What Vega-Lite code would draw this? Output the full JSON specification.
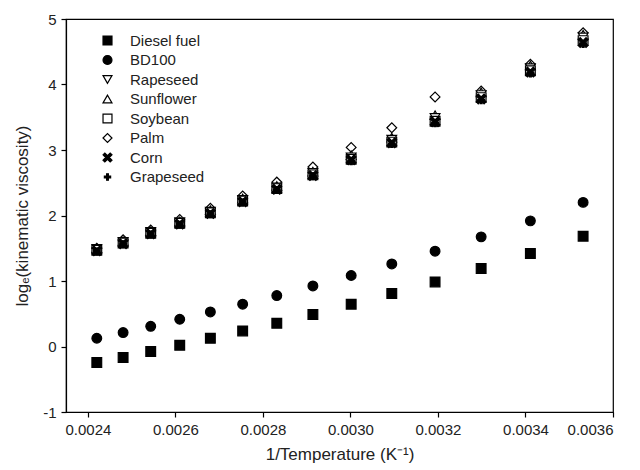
{
  "$schema": "https://vega.github.io/schema/vega-lite/v6.json",
  "width": 547,
  "height": 393,
  "autosize": "none",
  "padding": {"left": 66, "top": 19, "right": 27, "bottom": 58},
  "background": "white",
  "config": {
    "font": "Liberation Sans",
    "view": {"stroke": "black", "strokeWidth": 1.2},
    "axis": {
      "grid": false,
      "domainColor": "black",
      "domainWidth": 1.2,
      "tickColor": "black",
      "tickWidth": 1.2,
      "tickSize": 5,
      "labelColor": "#222",
      "titleColor": "#222",
      "labelFont": "Liberation Sans",
      "titleFont": "Liberation Sans",
      "labelFontSize": 15,
      "titleFontSize": 17,
      "titleFontWeight": "normal"
    },
    "legend": {
      "symbolStrokeColor": "black",
      "symbolStrokeWidth": 1.2,
      "labelFont": "Liberation Sans",
      "labelFontSize": 15,
      "labelColor": "#222"
    }
  },
  "data": {
    "values": [
      {"x": 0.0024204, "y": -0.245, "fuel": "Diesel fuel"},
      {"x": 0.0024805, "y": -0.169, "fuel": "Diesel fuel"},
      {"x": 0.0025436, "y": -0.077, "fuel": "Diesel fuel"},
      {"x": 0.0026099, "y": 0.019, "fuel": "Diesel fuel"},
      {"x": 0.0026799, "y": 0.126, "fuel": "Diesel fuel"},
      {"x": 0.0027537, "y": 0.238, "fuel": "Diesel fuel"},
      {"x": 0.0028317, "y": 0.355, "fuel": "Diesel fuel"},
      {"x": 0.0029142, "y": 0.488, "fuel": "Diesel fuel"},
      {"x": 0.0030017, "y": 0.646, "fuel": "Diesel fuel"},
      {"x": 0.0030945, "y": 0.809, "fuel": "Diesel fuel"},
      {"x": 0.0031934, "y": 0.986, "fuel": "Diesel fuel"},
      {"x": 0.0032987, "y": 1.191, "fuel": "Diesel fuel"},
      {"x": 0.0034112, "y": 1.42, "fuel": "Diesel fuel"},
      {"x": 0.0035317, "y": 1.684, "fuel": "Diesel fuel"},
      {"x": 0.0024204, "y": 0.126, "fuel": "BD100"},
      {"x": 0.0024805, "y": 0.213, "fuel": "BD100"},
      {"x": 0.0025436, "y": 0.309, "fuel": "BD100"},
      {"x": 0.0026099, "y": 0.416, "fuel": "BD100"},
      {"x": 0.0026799, "y": 0.528, "fuel": "BD100"},
      {"x": 0.0027537, "y": 0.646, "fuel": "BD100"},
      {"x": 0.0028317, "y": 0.778, "fuel": "BD100"},
      {"x": 0.0029142, "y": 0.925, "fuel": "BD100"},
      {"x": 0.0030017, "y": 1.084, "fuel": "BD100"},
      {"x": 0.0030945, "y": 1.261, "fuel": "BD100"},
      {"x": 0.0031934, "y": 1.455, "fuel": "BD100"},
      {"x": 0.0032987, "y": 1.674, "fuel": "BD100"},
      {"x": 0.0034112, "y": 1.918, "fuel": "BD100"},
      {"x": 0.0035317, "y": 2.2, "fuel": "BD100"},
      {"x": 0.0024204, "y": 1.5, "fuel": "Palm"},
      {"x": 0.0024805, "y": 1.63, "fuel": "Palm"},
      {"x": 0.0025436, "y": 1.78, "fuel": "Palm"},
      {"x": 0.0026099, "y": 1.94, "fuel": "Palm"},
      {"x": 0.0026799, "y": 2.11, "fuel": "Palm"},
      {"x": 0.0027537, "y": 2.3, "fuel": "Palm"},
      {"x": 0.0028317, "y": 2.51, "fuel": "Palm"},
      {"x": 0.0029142, "y": 2.74, "fuel": "Palm"},
      {"x": 0.0030017, "y": 3.04, "fuel": "Palm"},
      {"x": 0.0030945, "y": 3.34, "fuel": "Palm"},
      {"x": 0.0031934, "y": 3.81, "fuel": "Palm"},
      {"x": 0.0032987, "y": 3.9, "fuel": "Palm"},
      {"x": 0.0034112, "y": 4.31, "fuel": "Palm"},
      {"x": 0.0035317, "y": 4.79, "fuel": "Palm"},
      {"x": 0.0024204, "y": 1.5, "fuel": "Sunflower"},
      {"x": 0.0024805, "y": 1.61, "fuel": "Sunflower"},
      {"x": 0.0025436, "y": 1.76, "fuel": "Sunflower"},
      {"x": 0.0026099, "y": 1.91, "fuel": "Sunflower"},
      {"x": 0.0026799, "y": 2.08, "fuel": "Sunflower"},
      {"x": 0.0027537, "y": 2.26, "fuel": "Sunflower"},
      {"x": 0.0028317, "y": 2.45, "fuel": "Sunflower"},
      {"x": 0.0029142, "y": 2.67, "fuel": "Sunflower"},
      {"x": 0.0030017, "y": 2.92, "fuel": "Sunflower"},
      {"x": 0.0030945, "y": 3.19, "fuel": "Sunflower"},
      {"x": 0.0031934, "y": 3.53, "fuel": "Sunflower"},
      {"x": 0.0032987, "y": 3.88, "fuel": "Sunflower"},
      {"x": 0.0034112, "y": 4.29, "fuel": "Sunflower"},
      {"x": 0.0035317, "y": 4.76, "fuel": "Sunflower"},
      {"x": 0.0024204, "y": 1.49, "fuel": "Rapeseed"},
      {"x": 0.0024805, "y": 1.6, "fuel": "Rapeseed"},
      {"x": 0.0025436, "y": 1.75, "fuel": "Rapeseed"},
      {"x": 0.0026099, "y": 1.9, "fuel": "Rapeseed"},
      {"x": 0.0026799, "y": 2.06, "fuel": "Rapeseed"},
      {"x": 0.0027537, "y": 2.24, "fuel": "Rapeseed"},
      {"x": 0.0028317, "y": 2.43, "fuel": "Rapeseed"},
      {"x": 0.0029142, "y": 2.65, "fuel": "Rapeseed"},
      {"x": 0.0030017, "y": 2.89, "fuel": "Rapeseed"},
      {"x": 0.0030945, "y": 3.16, "fuel": "Rapeseed"},
      {"x": 0.0031934, "y": 3.49, "fuel": "Rapeseed"},
      {"x": 0.0032987, "y": 3.84, "fuel": "Rapeseed"},
      {"x": 0.0034112, "y": 4.25, "fuel": "Rapeseed"},
      {"x": 0.0035317, "y": 4.72, "fuel": "Rapeseed"},
      {"x": 0.0024204, "y": 1.47, "fuel": "Soybean"},
      {"x": 0.0024805, "y": 1.58, "fuel": "Soybean"},
      {"x": 0.0025436, "y": 1.73, "fuel": "Soybean"},
      {"x": 0.0026099, "y": 1.88, "fuel": "Soybean"},
      {"x": 0.0026799, "y": 2.04, "fuel": "Soybean"},
      {"x": 0.0027537, "y": 2.22, "fuel": "Soybean"},
      {"x": 0.0028317, "y": 2.41, "fuel": "Soybean"},
      {"x": 0.0029142, "y": 2.62, "fuel": "Soybean"},
      {"x": 0.0030017, "y": 2.86, "fuel": "Soybean"},
      {"x": 0.0030945, "y": 3.12, "fuel": "Soybean"},
      {"x": 0.0031934, "y": 3.44, "fuel": "Soybean"},
      {"x": 0.0032987, "y": 3.8, "fuel": "Soybean"},
      {"x": 0.0034112, "y": 4.21, "fuel": "Soybean"},
      {"x": 0.0035317, "y": 4.67, "fuel": "Soybean"},
      {"x": 0.0024204, "y": 1.46, "fuel": "Corn"},
      {"x": 0.0024805, "y": 1.57, "fuel": "Corn"},
      {"x": 0.0025436, "y": 1.72, "fuel": "Corn"},
      {"x": 0.0026099, "y": 1.87, "fuel": "Corn"},
      {"x": 0.0026799, "y": 2.03, "fuel": "Corn"},
      {"x": 0.0027537, "y": 2.21, "fuel": "Corn"},
      {"x": 0.0028317, "y": 2.4, "fuel": "Corn"},
      {"x": 0.0029142, "y": 2.61, "fuel": "Corn"},
      {"x": 0.0030017, "y": 2.85, "fuel": "Corn"},
      {"x": 0.0030945, "y": 3.11, "fuel": "Corn"},
      {"x": 0.0031934, "y": 3.43, "fuel": "Corn"},
      {"x": 0.0032987, "y": 3.78, "fuel": "Corn"},
      {"x": 0.0034112, "y": 4.19, "fuel": "Corn"},
      {"x": 0.0035317, "y": 4.64, "fuel": "Corn"},
      {"x": 0.0024204, "y": 1.45, "fuel": "Grapeseed"},
      {"x": 0.0024805, "y": 1.56, "fuel": "Grapeseed"},
      {"x": 0.0025436, "y": 1.71, "fuel": "Grapeseed"},
      {"x": 0.0026099, "y": 1.86, "fuel": "Grapeseed"},
      {"x": 0.0026799, "y": 2.02, "fuel": "Grapeseed"},
      {"x": 0.0027537, "y": 2.2, "fuel": "Grapeseed"},
      {"x": 0.0028317, "y": 2.39, "fuel": "Grapeseed"},
      {"x": 0.0029142, "y": 2.6, "fuel": "Grapeseed"},
      {"x": 0.0030017, "y": 2.83, "fuel": "Grapeseed"},
      {"x": 0.0030945, "y": 3.09, "fuel": "Grapeseed"},
      {"x": 0.0031934, "y": 3.41, "fuel": "Grapeseed"},
      {"x": 0.0032987, "y": 3.76, "fuel": "Grapeseed"},
      {"x": 0.0034112, "y": 4.17, "fuel": "Grapeseed"},
      {"x": 0.0035317, "y": 4.62, "fuel": "Grapeseed"}
    ]
  },
  "mark": {"type": "point", "filled": true, "stroke": "black", "strokeWidth": 1.2, "size": 95, "opacity": 1},
  "encoding": {
    "x": {
      "field": "x",
      "type": "quantitative",
      "scale": {"domain": [0.00235, 0.0036], "nice": false, "zero": false},
      "axis": {
        "values": [0.0024, 0.0026, 0.0028, 0.003, 0.0032, 0.0034, 0.0036],
        "format": ".4f",
        "labelPadding": 5,
        "titlePadding": 9,
        "title": "1/Temperature (K⁻¹)"
      }
    },
    "y": {
      "field": "y",
      "type": "quantitative",
      "scale": {"domain": [-1, 5], "nice": false, "zero": false},
      "axis": {
        "values": [-1, 0, 1, 2, 3, 4, 5],
        "labelExpr": "datum.value < 0 ? '-' + abs(datum.value) : datum.label",
        "labelPadding": 5,
        "titlePadding": 11,
        "title": "logₑ(kinematic viscosity)"
      }
    },
    "shape": {
      "field": "fuel",
      "type": "nominal",
      "scale": {
        "domain": ["Diesel fuel", "BD100", "Rapeseed", "Sunflower", "Soybean", "Palm", "Corn", "Grapeseed"],
        "range": ["square", "circle", "triangle-down", "triangle-up", "square", "diamond",
          "M-1,-0.6L-0.6,-1L0,-0.4L0.6,-1L1,-0.6L0.4,0L1,0.6L0.6,1L0,0.4L-0.6,1L-1,0.6L-0.4,0Z",
          "M-0.2,-0.7L0.2,-0.7L0.2,-0.2L0.7,-0.2L0.7,0.2L0.2,0.2L0.2,0.7L-0.2,0.7L-0.2,0.2L-0.7,0.2L-0.7,-0.2L-0.2,-0.2Z"]
      },
      "legend": {
        "title": null,
        "orient": "none",
        "legendX": 34,
        "legendY": 14,
        "padding": 0,
        "rowPadding": 3.5,
        "labelOffset": 15,
        "symbolSize": 80
      }
    },
    "color": {
      "field": "fuel",
      "type": "nominal",
      "scale": {
        "domain": ["Diesel fuel", "BD100", "Rapeseed", "Sunflower", "Soybean", "Palm", "Corn", "Grapeseed"],
        "range": ["black", "black", "white", "white", "white", "white", "black", "black"]
      },
      "legend": {
        "title": null,
        "orient": "none",
        "legendX": 34,
        "legendY": 14,
        "padding": 0,
        "rowPadding": 3.5,
        "labelOffset": 15,
        "symbolSize": 80
      }
    }
  }
}
